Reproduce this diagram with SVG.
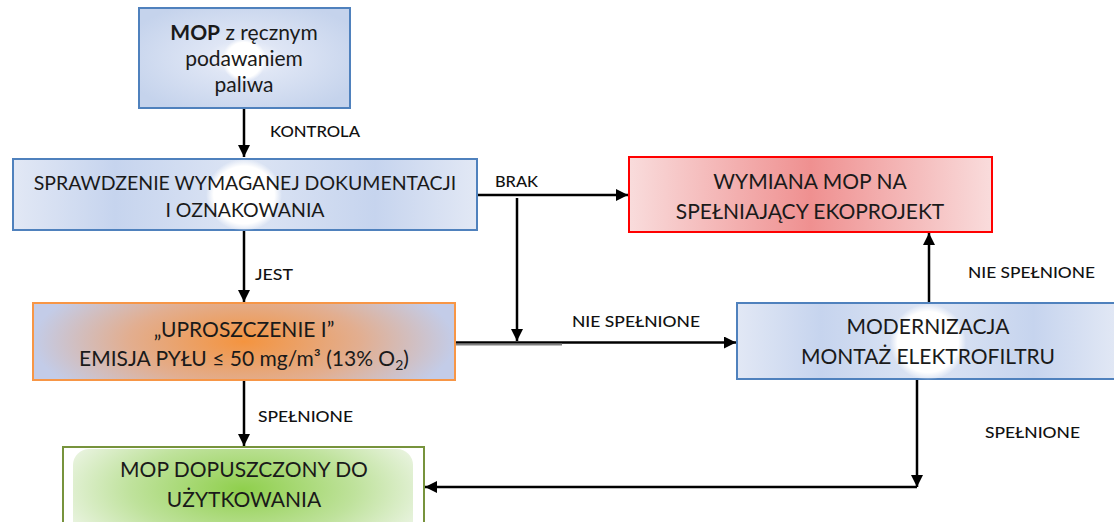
<svg xmlns="http://www.w3.org/2000/svg" width="1114" height="522" viewBox="0 0 1114 522">
  <style>
    .box-text { font-family: Lato, "Open Sans", "Liberation Sans", sans-serif; font-size: 21px; fill: #1a1a1a; text-anchor: middle; }
    .small { font-size: 19.5px; }
    .label { font-family: Lato, "Open Sans", "Liberation Sans", sans-serif; font-size: 16px; font-weight: 500; fill: #111; }
    .wire { stroke: #000; stroke-width: 2.5; fill: none; }
    .blue-border { stroke: #4f81bd; stroke-width: 2; }
  </style>
  <defs>
    <linearGradient id="blueFill" x1="0" y1="0" x2="1" y2="0">
      <stop offset="0" stop-color="#e2e8f5"/>
      <stop offset="0.22" stop-color="#c6d4ee"/>
      <stop offset="0.5" stop-color="#dde5f4"/>
      <stop offset="0.78" stop-color="#c6d4ee"/>
      <stop offset="1" stop-color="#e2e8f5"/>
    </linearGradient>
    <radialGradient id="blueRadial" cx="0.5" cy="0.5" r="0.6">
      <stop offset="0" stop-color="#ffffff"/>
      <stop offset="0.3" stop-color="#dfe6f5"/>
      <stop offset="1" stop-color="#c5d3ec"/>
    </radialGradient>
    <radialGradient id="whiteSpot" cx="0.5" cy="0.5" r="0.5">
      <stop offset="0" stop-color="#ffffff"/>
      <stop offset="0.8" stop-color="#ffffff"/>
      <stop offset="1" stop-color="#ffffff" stop-opacity="0"/>
    </radialGradient>
    <linearGradient id="redFill" x1="0" y1="0" x2="1" y2="0">
      <stop offset="0" stop-color="#f9dcdc"/>
      <stop offset="0.5" stop-color="#ef9090"/>
      <stop offset="1" stop-color="#f9dcdc"/>
    </linearGradient>
    <radialGradient id="orangeFill" cx="0.5" cy="0.5" r="0.5" gradientTransform="translate(0.5 0.5) scale(1 2) translate(-0.5 -0.5)">
      <stop offset="0" stop-color="#f4943f"/>
      <stop offset="0.55" stop-color="#e2ae90"/>
      <stop offset="1" stop-color="#c3cce8"/>
    </radialGradient>
    <radialGradient id="greenFill" cx="0.5" cy="0.45" r="0.55" gradientTransform="translate(0.5 0.45) scale(1 1.6) translate(-0.5 -0.45)">
      <stop offset="0" stop-color="#8fcf4c"/>
      <stop offset="0.6" stop-color="#bfe29c"/>
      <stop offset="1" stop-color="#e8f3de"/>
    </radialGradient>
    <marker id="arrow" markerWidth="12" markerHeight="12" refX="10" refY="5" orient="auto" markerUnits="userSpaceOnUse" viewBox="0 0 10 10">
      <path d="M0,0 L10,5 L0,10 z" fill="#000"/>
    </marker>
  </defs>

  <!-- connectors -->
  <g id="connectors">
    <line class="wire" x1="244" y1="109" x2="244" y2="157" marker-end="url(#arrow)"/>
    <line class="wire" x1="244" y1="231" x2="244" y2="302" marker-end="url(#arrow)"/>
    <line class="wire" x1="244" y1="381" x2="244" y2="446" marker-end="url(#arrow)"/>
    <line class="wire" x1="478" y1="195" x2="628" y2="195" marker-end="url(#arrow)"/>
    <line class="wire" x1="517" y1="198" x2="517" y2="341" marker-end="url(#arrow)"/>
    <line class="wire" x1="456" y1="342.5" x2="736" y2="342.5" marker-end="url(#arrow)"/>
    <line x1="456" y1="344.5" x2="562" y2="344.5" stroke="#808080" stroke-width="2"/>
    <line class="wire" x1="929" y1="302" x2="929" y2="233" marker-end="url(#arrow)"/>
    <line class="wire" x1="917" y1="380" x2="917" y2="487" marker-end="url(#arrow)"/>
    <line class="wire" x1="917" y1="487" x2="425" y2="487" marker-end="url(#arrow)"/>

    <text class="label" x="270" y="137" textLength="90" lengthAdjust="spacingAndGlyphs">KONTROLA</text>
    <text class="label" x="255" y="280" textLength="38" lengthAdjust="spacingAndGlyphs">JEST</text>
    <text class="label" x="495" y="187" textLength="43" lengthAdjust="spacingAndGlyphs">BRAK</text>
    <text class="label" x="572" y="327" textLength="128" lengthAdjust="spacingAndGlyphs">NIE SPEŁNIONE</text>
    <text class="label" x="968" y="278" textLength="127" lengthAdjust="spacingAndGlyphs">NIE SPEŁNIONE</text>
    <text class="label" x="258" y="422" textLength="95" lengthAdjust="spacingAndGlyphs">SPEŁNIONE</text>
    <text class="label" x="985" y="438" textLength="95" lengthAdjust="spacingAndGlyphs">SPEŁNIONE</text>
  </g>

  <!-- start node -->
  <g id="node-mop">
    <rect x="139" y="8" width="211" height="100" fill="url(#blueRadial)" class="blue-border"/>
    <ellipse cx="244" cy="60" rx="22" ry="22" fill="url(#whiteSpot)"/>
    <text class="box-text" font-size="20" x="244" y="40"><tspan font-weight="bold">MOP</tspan> z ręcznym</text>
    <text class="box-text" font-size="20" x="244" y="66">podawaniem</text>
    <text class="box-text" font-size="20" x="244" y="92">paliwa</text>
  </g>

  <!-- documentation check -->
  <g id="node-check">
    <rect x="13" y="159" width="464" height="71" fill="url(#blueFill)" class="blue-border"/>
    <ellipse cx="244" cy="195" rx="38" ry="36" fill="url(#whiteSpot)"/>
    <text class="box-text small" x="245" y="190">SPRAWDZENIE WYMAGANEJ DOKUMENTACJI</text>
    <text class="box-text small" x="245" y="217">I OZNAKOWANIA</text>
  </g>

  <!-- replacement -->
  <g id="node-replace">
    <rect x="629" y="157" width="363" height="75" fill="url(#redFill)" stroke="#ff0000" stroke-width="2"/>
    <text class="box-text" x="810" y="189">WYMIANA MOP NA</text>
    <text class="box-text" x="810" y="219">SPEŁNIAJĄCY EKOPROJEKT</text>
  </g>

  <!-- simplification I -->
  <g id="node-simplified">
    <rect x="33" y="303" width="422" height="77" fill="url(#orangeFill)" stroke="#f79646" stroke-width="2"/>
    <text class="box-text" x="244" y="337">„UPROSZCZENIE I”</text>
    <text class="box-text" x="244" y="366">EMISJA PYŁU ≤ 50 mg/m³ (13% O<tspan font-size="14" dy="4">2</tspan><tspan dy="-4">)</tspan></text>
  </g>

  <!-- modernisation -->
  <g id="node-modernise">
    <rect x="737" y="303" width="380" height="76" fill="url(#blueFill)" class="blue-border"/>
    <ellipse cx="928" cy="342" rx="38" ry="38" fill="url(#whiteSpot)"/>
    <text class="box-text" x="928" y="334">MODERNIZACJA</text>
    <text class="box-text" x="928" y="364">MONTAŻ ELEKTROFILTRU</text>
  </g>

  <!-- approved -->
  <g id="node-approved">
    <rect x="63" y="447" width="361" height="90" fill="#ffffff" stroke="#77933c" stroke-width="2"/>
    <rect x="73" y="449" width="340" height="90" rx="16" fill="url(#greenFill)"/>
    <text class="box-text" x="244" y="477">MOP DOPUSZCZONY DO</text>
    <text class="box-text" x="244" y="507">UŻYTKOWANIA</text>
  </g>
</svg>
